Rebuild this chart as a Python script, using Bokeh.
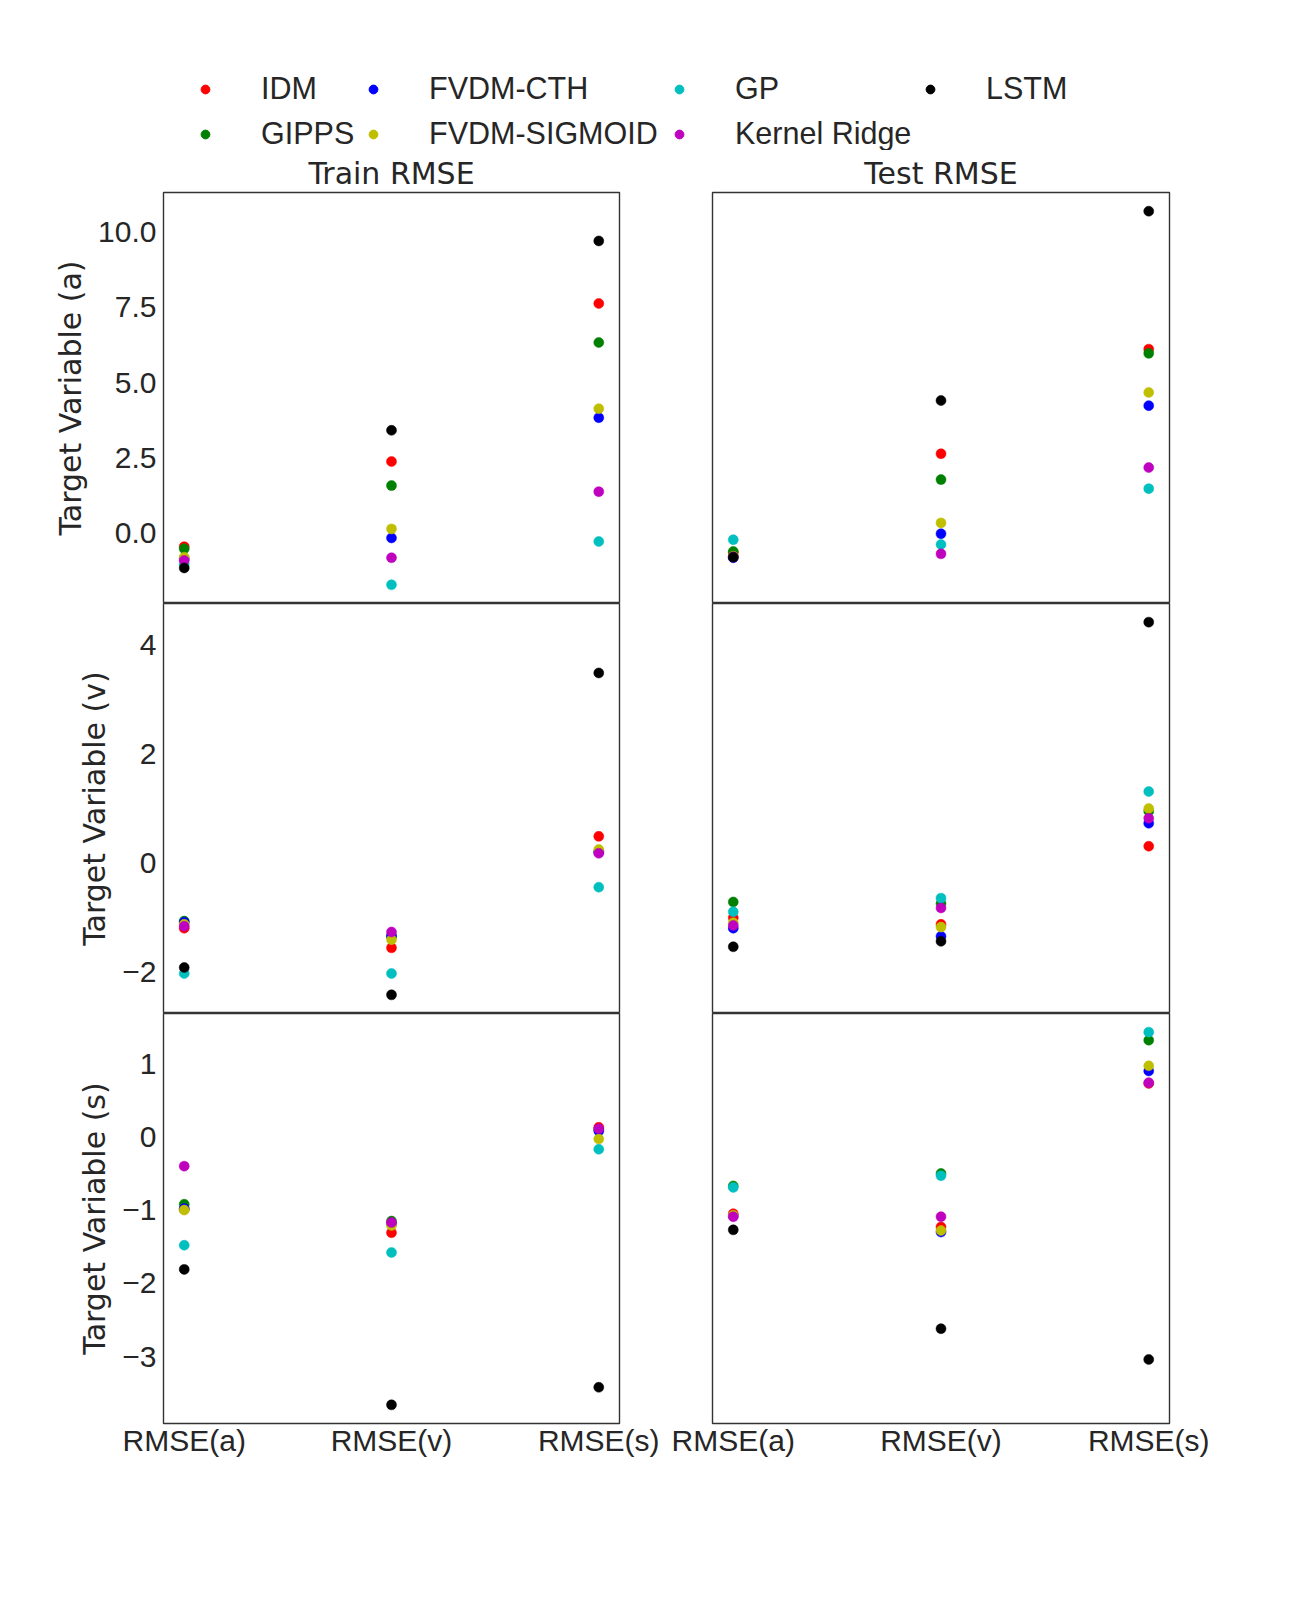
from bokeh.plotting import figure
from bokeh.layouts import column, row
from bokeh.models import Legend, LegendItem, Range1d, FixedTicker, CustomJSTickFormatter
from bokeh.embed import file_html
from bokeh.resources import INLINE

# ---------------- data ----------------
categories = ["RMSE(a)", "RMSE(v)", "RMSE(s)"]
models = ["IDM", "GIPPS", "FVDM-CTH", "FVDM-SIGMOID", "GP", "Kernel Ridge", "LSTM"]
colors = ["#ff0000", "#008000", "#0000ff", "#bfbf00", "#00bfbf", "#bf00bf", "#000000"]

# values per model: [RMSE(a), RMSE(v), RMSE(s)]
train_a = {"IDM": [-0.46, 2.37, 7.63], "GIPPS": [-0.53, 1.57, 6.33], "FVDM-CTH": [-0.86, -0.17, 3.83],
           "FVDM-SIGMOID": [-0.81, 0.13, 4.13], "GP": [-1.05, -1.73, -0.29], "Kernel Ridge": [-0.92, -0.83, 1.37],
           "LSTM": [-1.17, 3.41, 9.71]}
test_a = {"IDM": [-0.66, 2.63, 6.11], "GIPPS": [-0.62, 1.77, 5.97], "FVDM-CTH": [-0.83, -0.03, 4.23],
          "FVDM-SIGMOID": [-0.78, 0.33, 4.67], "GP": [-0.23, -0.39, 1.47], "Kernel Ridge": [-0.80, -0.70, 2.17],
          "LSTM": [-0.81, 4.40, 10.70]}
train_v = {"IDM": [-1.19, -1.55, 0.49], "GIPPS": [-1.06, -1.33, 0.22], "FVDM-CTH": [-1.08, -1.34, 0.20],
           "FVDM-SIGMOID": [-1.12, -1.40, 0.25], "GP": [-2.02, -2.02, -0.44], "Kernel Ridge": [-1.155, -1.26, 0.18],
           "LSTM": [-1.91, -2.41, 3.48]}
test_v = {"IDM": [-1.00, -1.12, 0.31], "GIPPS": [-0.71, -0.74, 0.95], "FVDM-CTH": [-1.19, -1.34, 0.73],
          "FVDM-SIGMOID": [-1.09, -1.17, 1.00], "GP": [-0.89, -0.64, 1.31], "Kernel Ridge": [-1.14, -0.82, 0.82],
          "LSTM": [-1.53, -1.43, 4.41]}
train_s = {"IDM": [-0.99, -1.31, 0.13], "GIPPS": [-0.92, -1.15, 0.10], "FVDM-CTH": [-0.98, -1.19, 0.08],
           "FVDM-SIGMOID": [-1.00, -1.21, -0.03], "GP": [-1.48, -1.58, -0.17], "Kernel Ridge": [-0.40, -1.17, 0.11],
           "LSTM": [-1.81, -3.66, -3.42]}
test_s = {"IDM": [-1.05, -1.23, 0.73], "GIPPS": [-0.67, -0.50, 1.32], "FVDM-CTH": [-1.08, -1.30, 0.90],
          "FVDM-SIGMOID": [-1.07, -1.28, 0.97], "GP": [-0.69, -0.53, 1.43], "Kernel Ridge": [-1.09, -1.09, 0.74],
          "LSTM": [-1.27, -2.62, -3.04]}

row_labels = ["Target Variable (a)", "Target Variable (v)", "Target Variable (s)"]
col_titles = ["Train RMSE", "Test RMSE"]
ticks_a = [0, 2.5, 5, 7.5, 10]
ticks_v = [-2, 0, 2, 4]
ticks_s = [-3, -2, -1, 0, 1]

# ---------------- style ----------------
FONT = "Liberation Sans"
LFONT = "DejaVu Sans"
TXT = "#262626"
FS = "30px"
EDGE = "#333333"
OFF = 8  # page offset


def mpl_range(*panels):
    vals = [v for pnl in panels for m in models for v in pnl[m]]
    lo, hi = min(vals), max(vals)
    pad = 0.05 * (hi - lo)
    return lo - pad, hi + pad


def make_panel(data, yr, col, rowi, ticks, decimals):
    left = col == 0
    bottom = rowi == 2
    top = rowi == 0
    p = figure(frame_width=456 if left else 457, frame_height=411 if top else 410,
               x_range=Range1d(-0.1, 2.1), y_range=Range1d(*yr),
               output_backend="svg", toolbar_location=None,
               x_axis_location="below" if bottom else None,
               y_axis_location="left" if left else None,
               min_border_left=155 + OFF if left else 48,
               min_border_right=45 if left else 80,
               min_border_top=42 if top else 0,
               min_border_bottom=60 if bottom else 0)
    p.grid.visible = False
    p.outline_line_color = EDGE
    p.outline_line_width = 1.4
    p.background_fill_color = "white"
    p.border_fill_color = "white"
    if top:
        p.title.text = col_titles[col]
        p.title.align = "center"
        p.title.text_font = LFONT
        p.title.text_font_size = FS
        p.title.text_font_style = "normal"
        p.title.text_color = TXT
        p.title.standoff = 3
    if bottom:
        ax = p.xaxis[0]
        ax.ticker = FixedTicker(ticks=[0, 1, 2])
        ax.formatter = CustomJSTickFormatter(args=dict(labels=categories),
                                             code="return labels[Math.round(tick)]")
        ax.major_label_text_font = FONT
        ax.major_label_text_font_size = FS
        ax.major_label_text_color = TXT
        ax.axis_line_color = None
        ax.major_tick_line_color = None
        ax.minor_tick_line_color = None
        ax.major_label_standoff = -6
    if left:
        ay = p.yaxis[0]
        ay.ticker = FixedTicker(ticks=ticks)
        ay.formatter = CustomJSTickFormatter(
            code="const s = tick.toFixed(%d); return tick < 0 ? '\u2212' + s.slice(1) : s;" % decimals)
        ay.major_label_text_font = FONT
        ay.major_label_text_font_size = FS
        ay.major_label_text_color = TXT
        ay.axis_line_color = None
        ay.major_tick_line_color = None
        ay.minor_tick_line_color = None
        ay.major_label_standoff = 1
        ay.axis_label = row_labels[rowi]
        ay.axis_label_text_font = LFONT
        ay.axis_label_text_font_size = FS
        ay.axis_label_text_font_style = "normal"
        ay.axis_label_text_color = TXT
        ay.axis_label_standoff = 7
    xs = list(range(len(categories)))
    for m, c in zip(models, colors):
        p.scatter(x=xs, y=data[m], size=10, fill_color=c, line_color=c, line_width=0.5)
    return p


yr_a = mpl_range(train_a, test_a)
yr_v = mpl_range(train_v, test_v)
yr_s = mpl_range(train_s, test_s)

tl = make_panel(train_a, yr_a, 0, 0, ticks_a, 1)
tr = make_panel(test_a, yr_a, 1, 0, ticks_a, 1)
ml = make_panel(train_v, yr_v, 0, 1, ticks_v, 0)
mr = make_panel(test_v, yr_v, 1, 1, ticks_v, 0)
bl = make_panel(train_s, yr_s, 0, 2, ticks_s, 0)
br = make_panel(test_s, yr_s, 1, 2, ticks_s, 0)

# ---------------- legend figure ----------------
LH = 142 + OFF
lf = figure(width=1292, height=LH, output_backend="svg", toolbar_location=None,
            x_axis_location=None, y_axis_location=None, min_border=0,
            x_range=Range1d(0, 1), y_range=Range1d(0, 1))
lf.grid.visible = False
lf.outline_line_color = None
rends = {}
for m, c in zip(models, colors):
    # a single off-range point so the legend has a glyph to draw
    rends[m] = lf.scatter(x=[-10], y=[-10], fill_color=c, line_color=c)

legend_cols = [["IDM", "GIPPS"], ["FVDM-CTH", "FVDM-SIGMOID"], ["GP", "Kernel Ridge"], ["LSTM"]]
legend_x = [186 + OFF, 354 + OFF, 660 + OFF, 911 + OFF]
ITEM_H = 35
SP = 10
for names, lx in zip(legend_cols, legend_x):
    n = len(names)
    h = n * ITEM_H + (n - 1) * SP
    top_y = 63 + OFF  # px from top of legend figure
    leg = Legend(items=[LegendItem(label=nm, renderers=[rends[nm]]) for nm in names],
                 location=(lx, LH - top_y - h), orientation="vertical",
                 padding=0, margin=0, spacing=SP, border_line_color=None,
                 background_fill_alpha=0, glyph_width=22, glyph_height=22,
                 label_height=30, label_standoff=45,
                 label_text_font=FONT, label_text_font_size="30.5px", label_text_color=TXT)
    lf.add_layout(leg)

layout = column(lf, row(tl, tr), row(ml, mr), row(bl, br))
open("out.html", "w").write(file_html(layout, INLINE))
